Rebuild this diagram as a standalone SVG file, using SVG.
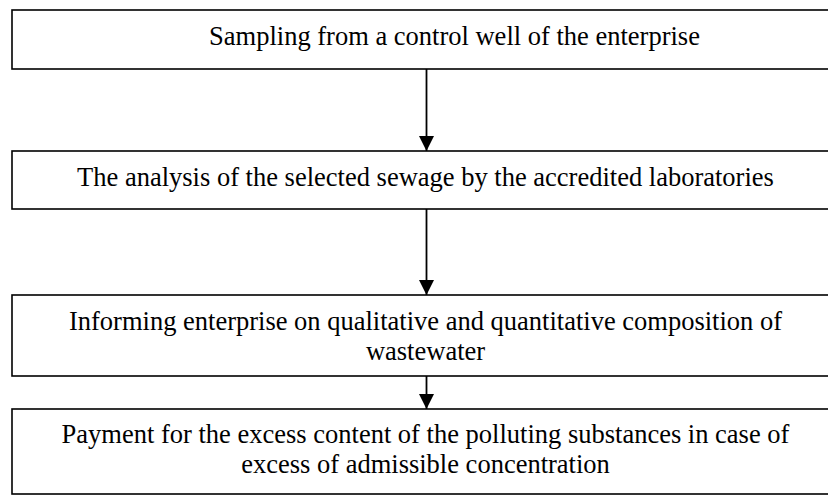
<svg xmlns="http://www.w3.org/2000/svg" width="828" height="495" viewBox="0 0 828 495">
<style>
.box{fill:#fff;stroke:#000;stroke-width:1.6}
.t{font-family:"Liberation Serif","Times New Roman",serif;font-size:26.5px;fill:#000;text-anchor:middle}
.c{stroke:#000;stroke-width:1.8;fill:none;marker-end:url(#ah)}
</style>
<defs>
<marker id="ah" markerUnits="userSpaceOnUse" markerWidth="15" markerHeight="15" refX="15" refY="7.5" orient="auto">
<path d="M0,0 L15,7.5 L0,15 z" fill="#000"/>
</marker>
</defs>
<rect width="828" height="495" fill="#fff"/>
<g id="node1">
<rect class="box" x="12" y="10" width="830" height="59"/>
<text class="t" x="454.5" y="45">Sampling from a control well of the enterprise</text>
</g>
<g id="node2">
<rect class="box" x="12" y="151" width="830" height="58"/>
<text class="t" x="425.5" y="186">The analysis of the selected sewage by the accredited laboratories</text>
</g>
<g id="node3">
<rect class="box" x="12" y="295" width="830" height="81"/>
<text class="t" x="425.5" y="330">Informing enterprise on qualitative and quantitative composition of</text>
<text class="t" x="425.5" y="360">wastewater</text>
</g>
<g id="node4">
<rect class="box" x="12" y="409" width="830" height="85"/>
<text class="t" x="425.5" y="443">Payment for the excess content of the polluting substances in case of</text>
<text class="t" x="425.5" y="473">excess of admissible concentration</text>
</g>
<g id="connectors">
<line class="c" x1="426.5" y1="69" x2="426.5" y2="151"/>
<line class="c" x1="426.5" y1="209" x2="426.5" y2="295"/>
<line class="c" x1="426.5" y1="376" x2="426.5" y2="409"/>
</g>
</svg>
